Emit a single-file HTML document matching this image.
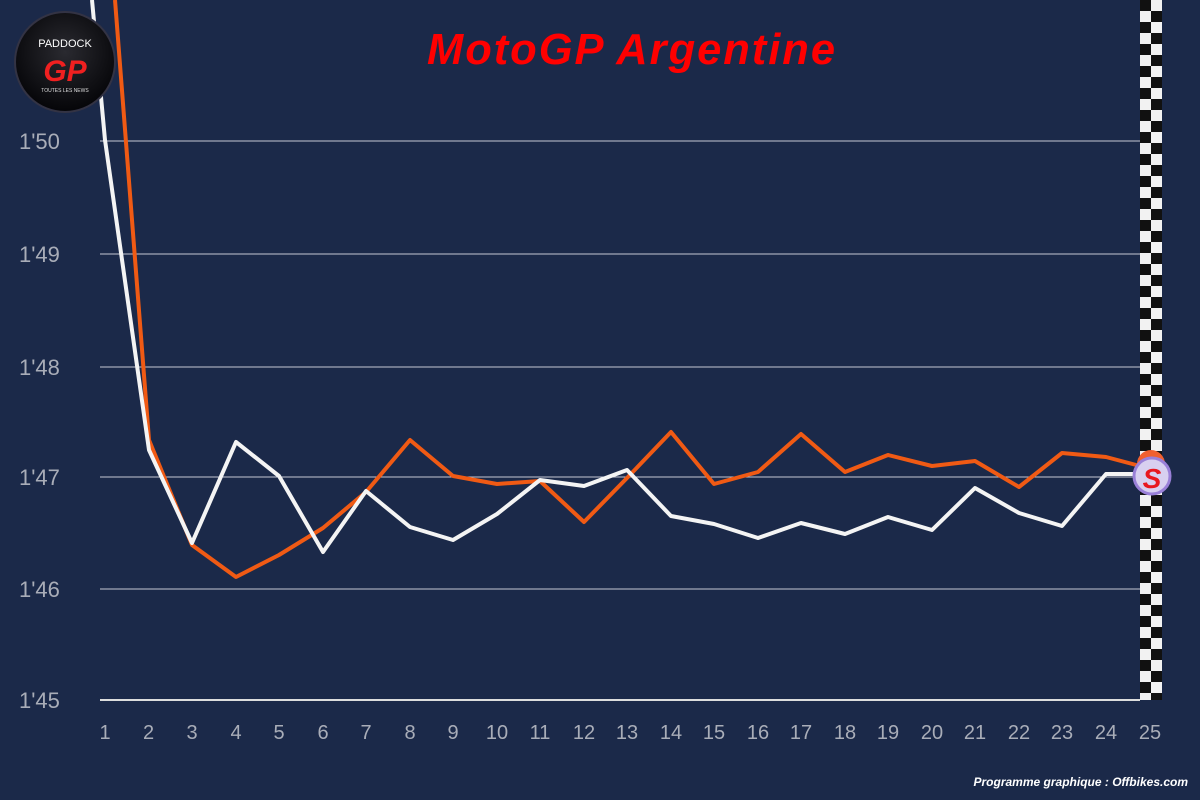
<!DOCTYPE html>
<html><head><meta charset="utf-8"><style>
body{margin:0;background:#1b2949;}
svg{display:block}
</style></head><body>
<svg width="1200" height="800" xmlns="http://www.w3.org/2000/svg">
<defs>
<pattern id="chk" x="1140" y="0" width="22" height="22" patternUnits="userSpaceOnUse">
<rect width="22" height="22" fill="#f2f2f2"/>
<rect width="11" height="11" fill="#111"/>
<rect x="11" y="11" width="11" height="11" fill="#111"/>
</pattern>
<radialGradient id="lg" cx="50%" cy="40%" r="60%"><stop offset="0" stop-color="#2a2a30"/><stop offset="1" stop-color="#050508"/></radialGradient>
</defs>
<rect width="1200" height="800" fill="#1b2949"/>
<g stroke="#c4c8d2" stroke-width="1">
<line x1="100" y1="141" x2="1140" y2="141"/>
<line x1="100" y1="254" x2="1140" y2="254"/>
<line x1="100" y1="367" x2="1140" y2="367"/>
<line x1="100" y1="477" x2="1140" y2="477"/>
<line x1="100" y1="589" x2="1140" y2="589"/>
<line x1="100" y1="700" x2="1140" y2="700" stroke="#ddd" stroke-width="2"/>
</g>
<g font-family="Liberation Sans, sans-serif" font-size="22" fill="#a9adb8">
<text x="19" y="149">1'50</text><text x="19" y="262">1'49</text><text x="19" y="375">1'48</text>
<text x="19" y="485">1'47</text><text x="19" y="597">1'46</text><text x="19" y="708">1'45</text>
</g>
<g font-family="Liberation Sans, sans-serif" font-size="20" fill="#a9adb8" text-anchor="middle">
<text x="105" y="739">1</text><text x="148.5" y="739">2</text><text x="192" y="739">3</text><text x="236" y="739">4</text><text x="279" y="739">5</text><text x="323" y="739">6</text><text x="366" y="739">7</text><text x="410" y="739">8</text><text x="453" y="739">9</text><text x="497" y="739">10</text><text x="540" y="739">11</text><text x="584" y="739">12</text><text x="627" y="739">13</text><text x="671" y="739">14</text><text x="714" y="739">15</text><text x="758" y="739">16</text><text x="801" y="739">17</text><text x="845" y="739">18</text><text x="888" y="739">19</text><text x="932" y="739">20</text><text x="975" y="739">21</text><text x="1019" y="739">22</text><text x="1062" y="739">23</text><text x="1106" y="739">24</text><text x="1150" y="739">25</text>
</g>
<rect x="1140" y="0" width="22" height="700" fill="url(#chk)"/>
<polyline fill="none" stroke="#f05a14" stroke-width="4" stroke-linejoin="round" points="115,0 149,440 192,545 236,577 279,555 323,528 366,492 410,440 453,476 497,484 540,481 584,522 627,478 671,432 714,484 758,472 801,434 845,472 888,455 932,466 975,461 1019,487 1062,453 1106,457 1140,466"/>
<polyline fill="none" stroke="#f4f4f4" stroke-width="4" stroke-linejoin="round" points="92,0 105,140 149,450 192,543 236,442 279,476 323,552 366,491 410,527 453,540 497,514 540,480 584,486 627,470 671,516 714,524 758,538 801,523 845,534 888,517 932,530 975,488 1019,513 1062,526 1106,474 1140,474"/>
<circle cx="1151" cy="464" r="14" fill="#f06030"/>
<circle cx="1152" cy="476" r="18" fill="#d8d0f0" stroke="#9a80d8" stroke-width="3"/>
<text x="1152" y="488" font-family="Liberation Sans, sans-serif" font-size="28" font-weight="bold" font-style="italic" fill="#e81820" text-anchor="middle">S</text>
<circle cx="65" cy="62" r="50" fill="url(#lg)" stroke="#334" stroke-width="2"/>
<text x="65" y="47" font-family="Liberation Sans, sans-serif" font-size="11" fill="#fff" text-anchor="middle">PADDOCK</text>
<text x="65" y="81" font-family="Liberation Sans, sans-serif" font-size="30" font-weight="bold" font-style="italic" fill="#f02020" text-anchor="middle">GP</text>
<text x="65" y="92" font-family="Liberation Sans, sans-serif" font-size="5" fill="#ddd" text-anchor="middle">TOUTES LES NEWS</text>
<text x="632" y="64" font-family="Liberation Sans, sans-serif" font-size="44" font-weight="bold" font-style="italic" fill="#f00" text-anchor="middle" letter-spacing="2" textLength="410" lengthAdjust="spacingAndGlyphs">MotoGP Argentine</text>
<text x="1188" y="786" font-family="Liberation Sans, sans-serif" font-size="12" font-weight="bold" font-style="italic" fill="#fff" text-anchor="end">Programme graphique : Offbikes.com</text>
</svg>
</body></html>
